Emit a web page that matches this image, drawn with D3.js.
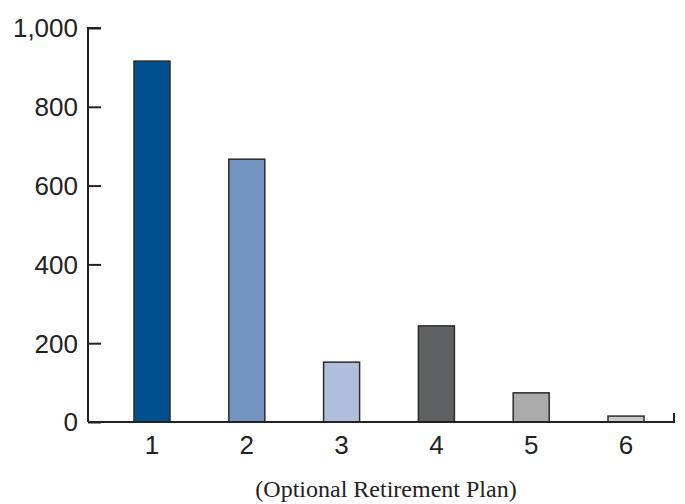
<!DOCTYPE html>
<html><head><meta charset="utf-8">
<script src="https://cdn.jsdelivr.net/npm/d3@7"></script>
<style>body{margin:0;background:#fff}svg{display:block}</style>
</head><body>
<svg id="c" width="685" height="504"></svg>
<script>
const categories = ["1","2","3","4","5","6"];
const values = [916, 667, 152, 244, 74, 15];
const colors = ["#00508f","#7393c0","#b0bedb","#5f6163","#aaaaaa","#c9c9c9"];
const yTicks = [0,200,400,600,800,1000];
const xTitle = "(Optional Retirement Plan)";

const svg = d3.select("#c");
const x0 = 88, x1 = 674, yTop = 28, yBot = 422;
const y = d3.scaleLinear().domain([0,1000]).range([yBot,yTop]);
const x = d3.scaleBand().domain(categories).range([120, 658]).paddingInner(0.62).paddingOuter(0.1475);

// bars
svg.selectAll("rect.bar").data(values).join("rect")
  .attr("class","bar")
  .attr("x",(d,i)=>x(categories[i]))
  .attr("width",x.bandwidth())
  .attr("y",d=>y(d))
  .attr("height",d=>yBot-y(d))
  .attr("fill",(d,i)=>colors[i])
  .attr("stroke","#2b2b2b").attr("stroke-width",1.5);

// y axis
const ya = svg.append("g").attr("transform",`translate(${x0},0)`)
  .call(d3.axisRight(y).tickValues(yTicks).tickSize(13).tickFormat(""));
ya.selectAll("path,line").attr("stroke","#222").attr("stroke-width",2);
ya.select(".domain").attr("d",`M13,${yTop}H0V${yBot}`);
svg.selectAll("text.yl").data(yTicks).join("text").attr("class","yl")
  .attr("x",78).attr("y",d=>y(d)).attr("dy","0.36em")
  .attr("text-anchor","end")
  .attr("font-family","Liberation Sans, Arial, sans-serif").attr("font-size",26)
  .attr("fill","#222").text(d3.format(","));

// x axis
svg.append("path").attr("d",`M${x0},${yBot}H${x1}V${yBot-9}`)
  .attr("fill","none").attr("stroke","#222").attr("stroke-width",2);
svg.selectAll("text.xl").data(categories).join("text").attr("class","xl")
  .attr("x",d=>x(d)+x.bandwidth()/2).attr("y",454)
  .attr("text-anchor","middle")
  .attr("font-family","Liberation Sans, Arial, sans-serif").attr("font-size",26)
  .attr("fill","#222").text(d=>d);

svg.append("text").attr("x",386).attr("y",497).attr("text-anchor","middle")
  .attr("font-family","Liberation Serif, Times New Roman, serif").attr("font-size",24)
  .attr("fill","#222").text(xTitle);
</script>
</body></html>
